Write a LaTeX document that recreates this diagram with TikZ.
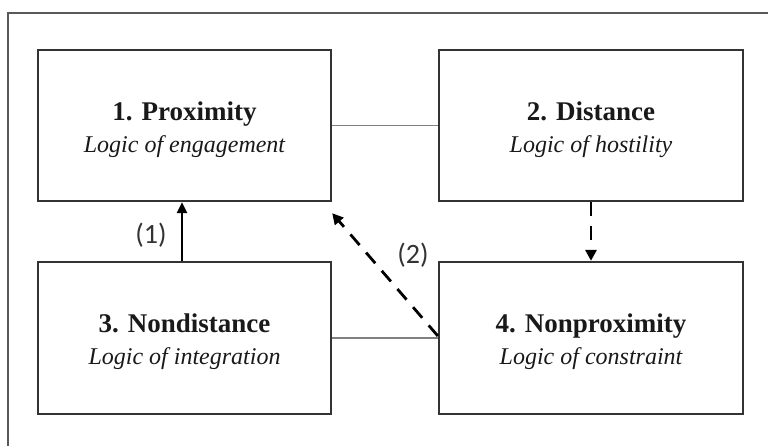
\documentclass[tikz,border=0pt]{standalone}
\usepackage{fontspec}
\setmainfont{Liberation Serif}
\newfontfamily\labelfont{Carlito}
\usetikzlibrary{arrows.meta}
\newcommand{\boxtext}[2]{\rule{0pt}{27pt}{\fontsize{27}{32}\selectfont\bfseries #1}\\{\itshape #2}}
\begin{document}
\begin{tikzpicture}[x=1pt,y=-1pt,
  frame/.style={draw=black!65, line width=2pt},
  box/.style={draw=black!80, line width=2.3pt, align=center, inner sep=0pt,
    font=\fontsize{24}{32}\selectfont, text=black!90},
  link/.style={draw=black!50, line width=1.4pt},
  solidarrow/.style={draw=black, line width=2.4pt, -{Triangle[length=11pt,width=10pt]}},
  dasharrow/.style={draw=black, line width=2.8pt, dash pattern=on 14pt off 10pt,
    -{Triangle[length=11pt,width=11pt]}},
  lab/.style={font=\labelfont\fontsize{28}{32}\selectfont, text=black!80}
]
\useasboundingbox (0,0) rectangle (768,446);
\draw[frame] (8,460) -- (8,13) -- (780,13);

\node[box, minimum width=293pt, minimum height=151pt] (b1) at (184.5,125.5)
  {\boxtext{1. Proximity}{Logic of engagement}};
\node[box, minimum width=304pt, minimum height=151pt] (b2) at (591,125.5)
  {\boxtext{2. Distance}{Logic of hostility}};
\node[box, minimum width=293pt, minimum height=152pt] (b3) at (184.5,338)
  {\boxtext{3. Nondistance}{Logic of integration}};
\node[box, minimum width=304pt, minimum height=152pt] (b4) at (591,338)
  {\boxtext{4. Nonproximity}{Logic of constraint}};

\draw[link] (b1.east) -- (b2.west);
\draw[link] (b3.east) -- (b4.west);

\coordinate (c1) at (182,0);
\draw[solidarrow] (b3.north -| c1) -- (b1.south -| c1);
\draw[dasharrow] (b2.south) -- (b4.north);
\draw[dasharrow] ([yshift=2pt]b4.west) -- ([yshift=-11pt]b1.south east);

\node[lab] (l1) at (151,235) {(1)};
\node[lab] (l2) at (413,255) {(2)};
\end{tikzpicture}
\end{document}
